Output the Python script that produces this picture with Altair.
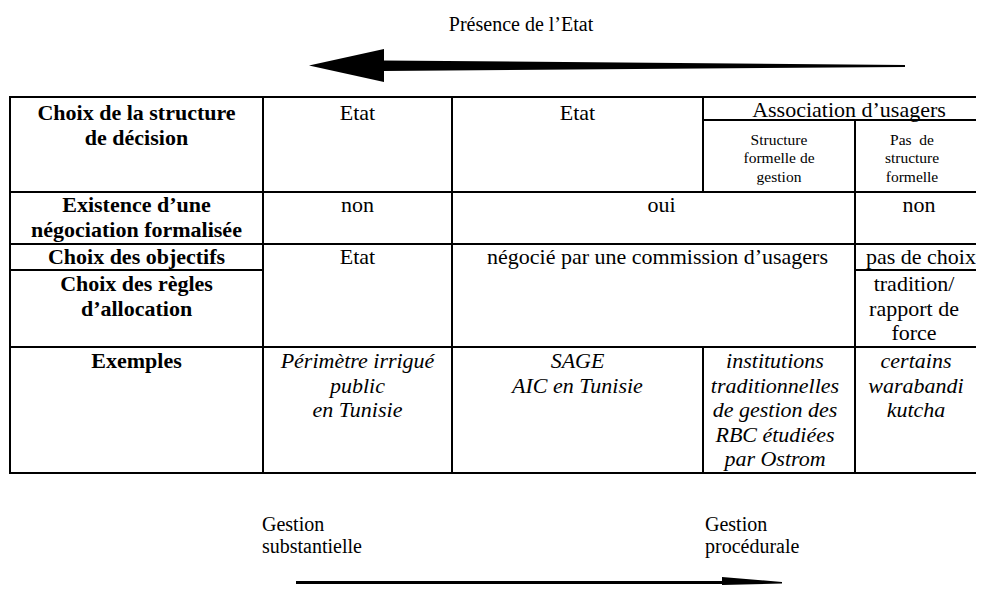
import altair as alt
import pandas as pd

# ---------------- values (texts of the table) ----------------
top_label = "Présence de l’Etat"
bottom_left_label = ["Gestion", "substantielle"]
bottom_right_label = ["Gestion", "procédurale"]

row_headers = [
    ["Choix de la structure", "de décision"],
    ["Existence d’une", "négociation formalisée"],
    ["Choix des objectifs"],
    ["Choix des règles", "d’allocation"],
    ["Exemples"],
]
structure_row = [["Etat"], ["Etat"], ["Association d’usagers"]]
structure_sub = [["Structure", "formelle de", "gestion"],
                 ["Pas\u00a0 de", "structure", "formelle"]]
negotiation_row = [["non"], ["oui"], ["non"]]
objectives_row = [["Etat"], ["négocié par une commission d’usagers"], ["pas de choix"]]
rules_row = [["tradition/", "rapport de", "force"]]
examples_row = [
    ["Périmètre irrigué", "public", "en Tunisie"],
    ["SAGE", "AIC en Tunisie"],
    ["institutions", "traditionnelles", "de gestion des", "RBC étudiées", "par Ostrom"],
    ["certains", "warabandi", "kutcha"],
]

# ---------------- layout (page pixel grid) ----------------
COL = [10, 263, 452, 703, 855, 983]
ROW = [97, 120, 192, 244, 270, 347, 473]
RIGHT = 995
LEAD = {"bold": 24.5, "normal": 24.5, "italic": 24.5, "small": 18.5}
FONT = "Liberation Serif"
BIG = 22

# (lines, style, col0, col1, row0, row1, first baseline, x shift)
cells = [
    (row_headers[0], "bold", 0, 1, 0, 2, 120, 0),
    (structure_row[0], "normal", 1, 2, 0, 2, 120, 0),
    (structure_row[1], "normal", 2, 3, 0, 2, 120, 0),
    (structure_row[2], "normal", 3, 5, 0, 1, 117, 6),
    (structure_sub[0], "small", 3, 4, 1, 2, 144.5, 0),
    (structure_sub[1], "small", 4, 5, 1, 2, 144.5, -7),
    (row_headers[1], "bold", 0, 1, 2, 3, 212, 0),
    (negotiation_row[0], "normal", 1, 2, 2, 3, 212, 0),
    (negotiation_row[1], "normal", 2, 4, 2, 3, 212, 8),
    (negotiation_row[2], "normal", 4, 5, 2, 3, 212, 0),
    (row_headers[2], "bold", 0, 1, 3, 4, 264, 0),
    (row_headers[3], "bold", 0, 1, 4, 5, 291, 0),
    (objectives_row[0], "normal", 1, 2, 3, 5, 264, 0),
    (objectives_row[1], "normal", 2, 4, 3, 5, 264, 4),
    (objectives_row[2], "normal", 4, 5, 3, 4, 264, 2),
    (rules_row[0], "normal", 4, 5, 4, 5, 291, -5),
    (row_headers[4], "bold", 0, 1, 5, 6, 368, 0),
    (examples_row[0], "italic", 1, 2, 5, 6, 368, 0),
    (examples_row[1], "italic", 2, 3, 5, 6, 368, 0),
    (examples_row[2], "italic", 3, 4, 5, 6, 368, -4),
    (examples_row[3], "italic", 4, 5, 5, 6, 368, -3),
]

rect_rows, text_rows = [], []
for lines, style, c0, c1, r0, r1, base, dx in cells:
    rect_rows.append({"x": COL[c0], "x2": RIGHT if c1 == 5 else COL[c1],
                      "y": ROW[r0], "y2": ROW[r1]})
    cx = (COL[c0] + COL[c1]) / 2 + dx
    for i, t in enumerate(lines):
        text_rows.append({"text": t, "x": cx, "y": base + i * LEAD[style], "style": style})

# annotations around the table
text_rows.append({"text": top_label, "x": 521, "y": 31, "style": "annot_c"})
for i, t in enumerate(bottom_left_label):
    text_rows.append({"text": t, "x": 262, "y": 531 + i * 22, "style": "annot_l"})
for i, t in enumerate(bottom_right_label):
    text_rows.append({"text": t, "x": 705, "y": 531 + i * 22, "style": "annot_l"})

rect_df = pd.DataFrame(rect_rows)
text_df = pd.DataFrame(text_rows)

# arrows (shapes drawn as ranged areas)
arrow_parts = {
    "top_head": [(309, 65.5, 65.5), (384, 49, 82)],
    "top_shaft": [(383, 60.5, 71), (905, 65, 67)],
    "bottom_shaft": [(296, 581, 584), (723, 581, 584)],
    "bottom_head": [(722, 577, 585), (782, 582, 583.5)],
}
arrow_df = pd.DataFrame([
    {"part": p, "x": x, "ytop": a, "ybot": b}
    for p, pts in arrow_parts.items() for (x, a, b) in pts
])

xs = alt.Scale(domain=[8, 976], nice=False, zero=False)
ys = alt.Scale(domain=[8, 586], nice=False, zero=False, reverse=True)

grid = alt.Chart(rect_df).mark_rect(fillOpacity=0, stroke="black", strokeWidth=2).encode(
    x=alt.X("x:Q", scale=xs, axis=None),
    x2="x2:Q",
    y=alt.Y("y:Q", scale=ys, axis=None),
    y2="y2:Q",
)

arrows = alt.Chart(arrow_df).mark_area(color="black", interpolate="linear").encode(
    x=alt.X("x:Q", scale=xs, axis=None),
    y=alt.Y("ytop:Q", scale=ys, axis=None, stack=None),
    y2="ybot:Q",
    detail="part:N",
)


def text_layer(style, align="center", **props):
    return alt.Chart(text_df).transform_filter(alt.datum.style == style).mark_text(
        align=align, baseline="alphabetic", font=FONT, color="black", **props
    ).encode(
        x=alt.X("x:Q", scale=xs, axis=None),
        y=alt.Y("y:Q", scale=ys, axis=None),
        text="text:N",
    )


layers = [
    grid,
    arrows,
    text_layer("bold", fontSize=BIG, fontWeight="bold"),
    text_layer("normal", fontSize=BIG),
    text_layer("italic", fontSize=BIG, fontStyle="italic"),
    text_layer("small", fontSize=15.5),
    text_layer("annot_c", fontSize=20),
    text_layer("annot_l", align="left", fontSize=20),
]

chart = alt.layer(*layers).properties(
    width=968, height=578, padding=0,
    autosize=alt.AutoSizeParams(type="none"),
    background="white",
).configure_view(stroke=None)

chart.save("out.html", embed_options={"renderer": "svg", "actions": False})
